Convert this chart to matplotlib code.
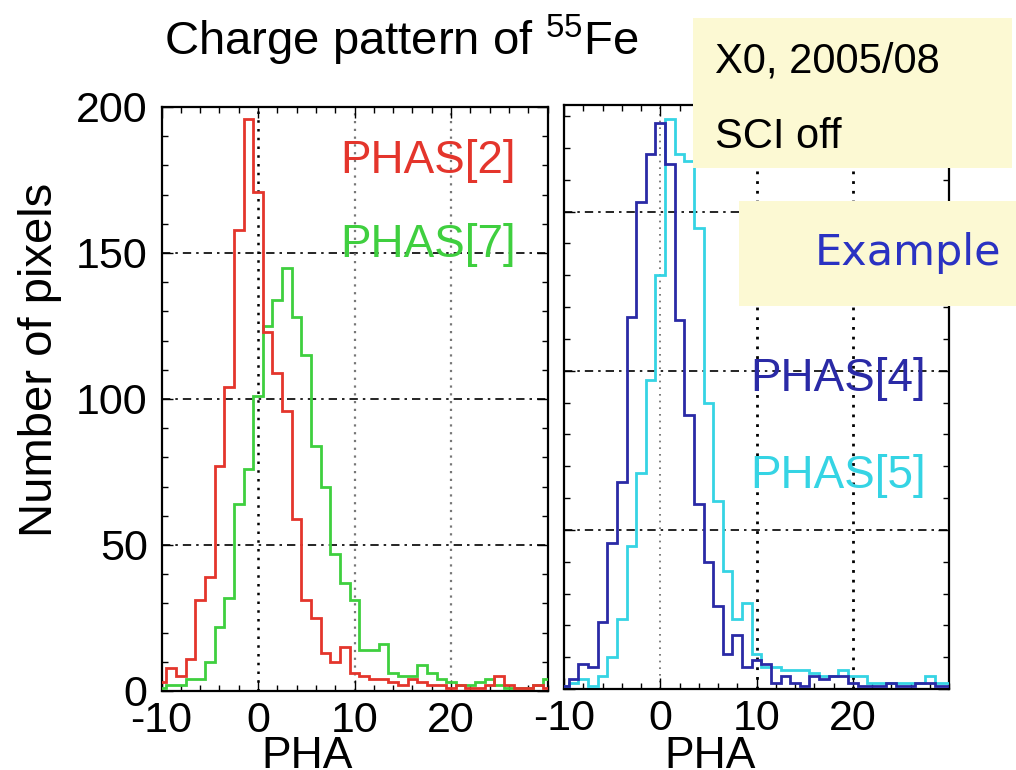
import numpy as np
import matplotlib

matplotlib.use("Agg")
import matplotlib.pyplot as plt
from matplotlib.patches import Rectangle
from matplotlib.ticker import MultipleLocator

plt.rcParams["font.family"] = ["Liberation Sans", "DejaVu Sans"]
plt.rcParams["mathtext.fontset"] = "custom"
plt.rcParams["mathtext.rm"] = "Liberation Sans"
plt.rcParams["axes.unicode_minus"] = False

# ---------------------------------------------------------------------------
# Data: counts per integer PHA bin, bins -10 ... 30
# ---------------------------------------------------------------------------
pha_bins = np.arange(-10, 31)

phas2 = [3, 8, 5, 11, 31, 39, 77, 104, 158, 196, 171, 123, 109, 96, 59, 31,
         25, 13, 10, 15, 6, 5, 4, 4, 3, 2, 4, 3, 2, 2, 1, 2, 1, 1, 2, 5,
         2, 1, 1, 2, 1]
phas7 = [1, 2, 2, 4, 4, 10, 22, 32, 64, 76, 101, 125, 134, 145, 128, 115,
         84, 70, 47, 37, 31, 14, 14, 16, 6, 5, 5, 9, 6, 4, 3, 2, 2, 3, 4,
         2, 1, 1, 1, 2, 4]
phas4 = [1, 3, 8, 7, 21, 46, 65, 117, 153, 168, 178, 165, 116, 86, 58, 40,
         26, 11, 17, 7, 9, 8, 2, 4, 2, 1, 4, 3, 4, 4, 2, 1, 1, 1, 2, 1, 1,
         2, 2, 1, 1]
phas5 = [1, 2, 3, 1, 4, 10, 22, 45, 68, 97, 130, 179, 168, 166, 145, 90,
         59, 37, 22, 27, 11, 7, 7, 6, 6, 6, 5, 4, 4, 6, 4, 4, 2, 2, 2, 2, 2,
         2, 4, 2, 2]

edges = np.append(pha_bins - 0.5, pha_bins[-1] + 0.5)

RED = "#e4352c"
GREEN = "#3fcf3f"
NAVY = "#2a2aa6"
CYAN = "#35d4e4"
BOX = "#fcf9d3"

W, H = 1016, 770


def px(x, y):
    """Figure-fraction coordinates from pixel position (origin top-left)."""
    return x / W, 1 - y / H


def style_axes(ax, ymax, labels):
    ax.set_xlim(-10, 30)
    ax.set_ylim(0, ymax)
    ax.set_xticks([-10, 0, 10, 20])
    ax.xaxis.set_minor_locator(MultipleLocator(2))
    ax.yaxis.set_major_locator(MultipleLocator(50))
    ax.yaxis.set_minor_locator(MultipleLocator(10))
    ax.tick_params(which="both", direction="in", top=True, right=True,
                   width=1.0, labelsize=31)
    ax.tick_params(which="major", length=8)
    ax.tick_params(which="minor", length=4)
    ax.tick_params(axis="x", pad=7)
    ax.tick_params(axis="y", pad=10, labelleft=labels)
    for s in ax.spines.values():
        s.set_linewidth(1.6)
    # horizontal dash-dot grid lines
    for v in (50, 100, 150):
        ax.axhline(v, color="k", lw=1.2, ls=(0, (5, 3, 1.5, 3)), zorder=1)


fig = plt.figure(figsize=(W / 100, H / 100), dpi=100)

# --- left panel: PHAS[2], PHAS[7] -------------------------------------------
axl = fig.add_axes([161.5 / W, 1 - 691 / H, 386 / W, 584 / H])
style_axes(axl, 200, True)
axl.axvline(0, color="k", lw=1.8, ls=(0, (1, 2.5)), zorder=1)
for v in (10, 20):
    axl.axvline(v, color="#777777", lw=1.6, ls=(0, (1, 2.5)), zorder=1)
axl.stairs(phas7, edges, color=GREEN, lw=2.0, zorder=3)
axl.stairs(phas2, edges, color=RED, lw=2.0, zorder=4)
axl.text(8.5, 177.5, "PHAS[2]", color=RED, fontsize=33, va="baseline")
axl.text(8.5, 148.5, "PHAS[7]", color=GREEN, fontsize=33, va="baseline")

# --- right panel: PHAS[4], PHAS[5] ------------------------------------------
axr = fig.add_axes([564 / W, 1 - 689 / H, 385 / W, 584 / H])
style_axes(axr, 183.5, False)
axr.axvline(0, color="#666666", lw=1.2, ls=(0, (1, 3)), zorder=1)
for v in (10, 20):
    axr.axvline(v, color="k", lw=2.0, ls=(0, (1, 2.5)), zorder=1)
axr.stairs(phas5, edges, color=CYAN, lw=2.0, zorder=3)
axr.stairs(phas4, edges, color=NAVY, lw=2.0, zorder=4)
axr.text(9.3, 93.5, "PHAS[4]", color=NAVY, fontsize=33, va="baseline")
axr.text(9.3, 63.0, "PHAS[5]", color=CYAN, fontsize=33, va="baseline")

# x labels, centred near PHA = 5 and cut by the bottom edge as in the slide
fig.text(*px(307, 736), "PHA", fontsize=32, ha="center", va="top")
fig.text(*px(710, 736), "PHA", fontsize=32, ha="center", va="top")

# --- title and y label ------------------------------------------------------
fig.text(*px(401, 55), r"Charge pattern of $\mathregular{^{55}}$Fe",
         fontsize=34, ha="center", va="baseline")
fig.text(*px(40, 360), "Number of pixels", fontsize=34, rotation=90,
         ha="center", va="center")

# --- yellow note boxes ------------------------------------------------------
fig.add_artist(Rectangle(px(693, 168), 319 / W, 150 / H,
                         transform=fig.transFigure, facecolor=BOX,
                         edgecolor="none", zorder=5))
fig.add_artist(Rectangle(px(739, 306), 277 / W, 105 / H,
                         transform=fig.transFigure, facecolor=BOX,
                         edgecolor="none", zorder=5))
fig.text(*px(715, 73), "X0, 2005/08", fontsize=30, va="baseline", zorder=6)
fig.text(*px(715, 148), "SCI off", fontsize=30, va="baseline", zorder=6)
fig.text(*px(815, 265), "Example", fontsize=31, color="#2a32c2",
         family="DejaVu Sans", va="baseline", zorder=6)

fig.savefig("out.png", dpi=100)
